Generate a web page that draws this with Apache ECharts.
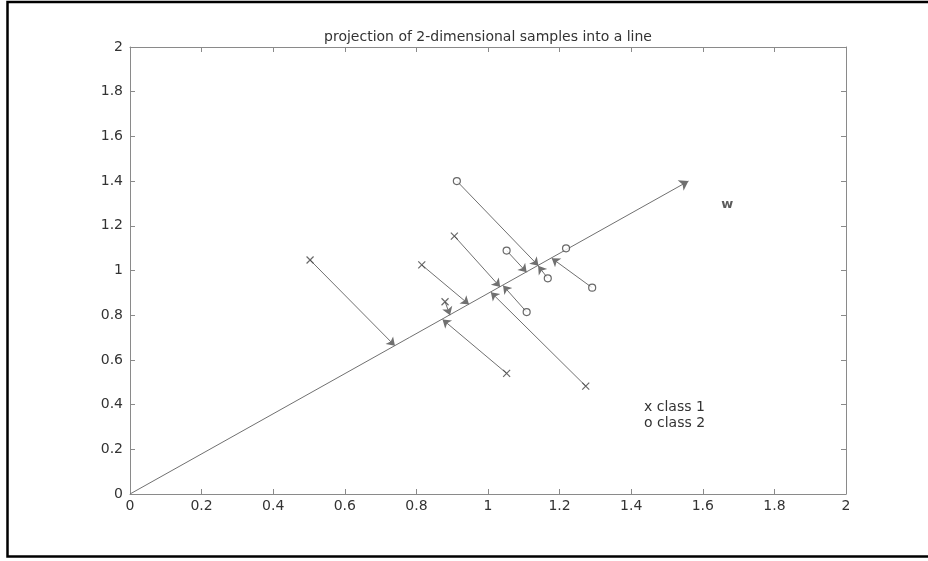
<!DOCTYPE html>
<html>
<head>
<meta charset="utf-8">
<script src="https://cdn.jsdelivr.net/npm/echarts@6/dist/echarts.min.js"></script>
<style>
  html, body { margin: 0; padding: 0; background: #fff; }
  #chart { width: 928px; height: 561px; }
</style>
</head>
<body>
<div id="chart"></div>
<script>
// Axis ticks
const tickValues = [0, 0.2, 0.4, 0.6, 0.8, 1, 1.2, 1.4, 1.6, 1.8, 2];

// Class 1 samples and their projections onto the line
const class1X = [0.503, 0.815, 0.906, 0.880, 1.052, 1.273];
const class1Y = [1.047, 1.025, 1.154, 0.860, 0.540, 0.483];
const class1ProjX = [0.740, 0.947, 1.034, 0.894, 0.873, 1.008];
const class1ProjY = [0.663, 0.848, 0.926, 0.800, 0.781, 0.903];

// Class 2 samples and their projections onto the line
const class2X = [0.913, 1.052, 1.218, 1.291, 1.167, 1.108];
const class2Y = [1.400, 1.089, 1.099, 0.923, 0.965, 0.814];
const class2ProjX = [1.141, 1.108, 1.218, 1.178, 1.140, 1.042];
const class2ProjY = [1.021, 0.992, 1.099, 1.055, 1.021, 0.933];

// Direction vector w (from the origin) and its label position
const wStart = [0, 0];
const wEnd = [1.56, 1.40];
const wLabelPos = [1.668, 1.293];
const wLabel = 'w';

const titleText = 'projection of 2-dimensional samples into a line';
const noteLines = ['x class 1', 'o class 2'];

const FONT = '"DejaVu Sans", Verdana, sans-serif';
const INK = '#444';
const AXIS = '#8a8a8a';

function pairs(xs, ys) { return xs.map((x, i) => [x, ys[i]]); }

// Projection arrows, skipping samples that already sit on the line
const arrows = [];
[[class1X, class1Y, class1ProjX, class1ProjY], [class2X, class2Y, class2ProjX, class2ProjY]]
  .forEach(([xs, ys, px, py]) => {
    xs.forEach((x, i) => {
      if (Math.hypot(px[i] - x, py[i] - ys[i]) > 0.02) {
        arrows.push({ coords: [[x, ys[i]], [px[i], py[i]]] });
      }
    });
  });

const xMark = 'path://M0,0L10,10M10,0L0,10';

function axis(extra) {
  return Object.assign({
    type: 'value', min: 0, max: 2, interval: 0.2,
    axisLine: { show: true, onZero: false, lineStyle: { color: AXIS, width: 1 } },
    axisTick: { show: true, inside: true, length: 5, lineStyle: { color: AXIS } },
    splitLine: { show: false }
  }, extra);
}
function tickLabels(margin) {
  return {
    margin: margin, color: '#333', fontFamily: FONT, fontSize: 14,
    formatter: v => {
      const hit = tickValues.find(t => Math.abs(t - v) < 1e-9);
      return hit === undefined ? '' : String(hit);
    }
  };
}

const chart = echarts.init(document.getElementById('chart'));
chart.setOption({
  backgroundColor: '#fff',
  animation: false,
  title: {
    text: titleText, left: 483, top: 25, textAlign: 'center',
    textStyle: { fontFamily: FONT, fontSize: 14, fontWeight: 'normal', color: '#333' }
  },
  grid: { left: 130, right: 82, top: 47, bottom: 67 },
  xAxis: [
    axis({ position: 'bottom', axisLabel: tickLabels(5) }),
    axis({ position: 'top', axisLabel: { show: false } })
  ],
  yAxis: [
    axis({ position: 'left', axisLabel: tickLabels(7) }),
    axis({ position: 'right', axisLabel: { show: false } })
  ],
  series: [
    {
      type: 'lines', coordinateSystem: 'cartesian2d',
      data: [{ coords: [wStart, wEnd] }],
      symbol: ['none', 'arrow'], symbolSize: 9,
      lineStyle: { color: '#707070', width: 1, opacity: 1 }
    },
    {
      type: 'lines', coordinateSystem: 'cartesian2d',
      data: arrows,
      symbol: ['none', 'arrow'], symbolSize: 8,
      lineStyle: { color: '#707070', width: 1, opacity: 1 }
    },
    {
      type: 'scatter', name: 'class 1', data: pairs(class1X, class1Y),
      symbol: xMark, symbolSize: 7,
      itemStyle: { color: 'none', borderColor: INK, borderWidth: 1.2 }
    },
    {
      type: 'scatter', name: 'class 2', data: pairs(class2X, class2Y),
      symbol: 'circle', symbolSize: 7,
      itemStyle: { color: '#fff', borderColor: INK, borderWidth: 1.2 }
    },
    {
      type: 'scatter', data: [wLabelPos], symbolSize: 0,
      label: {
        show: true, position: 'inside', formatter: wLabel,
        fontFamily: FONT, fontSize: 13, fontWeight: 'bold', color: '#333'
      }
    }
  ],
  graphic: [
    {
      type: 'rect', silent: true,
      shape: { x: 7.5, y: 2, width: 940, height: 554.5 },
      style: { fill: 'none', stroke: '#000', lineWidth: 2.5 }
    },
    {
      type: 'text', left: 644, top: 400,
      style: { text: noteLines[0], font: '14px ' + FONT, fill: '#333' }
    },
    {
      type: 'text', left: 644, top: 416,
      style: { text: noteLines[1], font: '14px ' + FONT, fill: '#333' }
    }
  ]
});
</script>
</body>
</html>
